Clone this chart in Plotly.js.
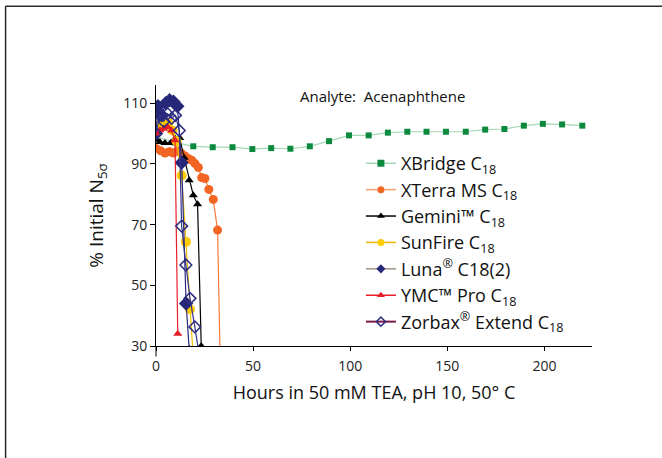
<!DOCTYPE html>
<html>
<head>
<meta charset="utf-8">
<script src="https://cdn.plot.ly/plotly-3.0.1.min.js"></script>
<style>html,body{margin:0;padding:0;background:#fff;}#chart{width:662px;height:458px;}</style>
</head>
<body>
<div id="chart"></div>
<script>
// Data (hours, % initial N)
const xbridgeX = [0,10,19.2,29.2,39.4,49.6,59.3,69.2,79.2,89.1,99.4,109.5,119.4,129.4,139.3,149.3,159.5,169.5,179.4,189.4,199.2,209.1,219.5];
const xbridgeY = [99,97,95.8,95.5,95.5,94.9,95.2,95.0,95.8,97.5,99.4,99.4,100.3,100.6,100.6,100.6,100.6,101.3,101.5,102.6,103.2,103.0,102.6];

const xterraX = [0,2.4,4.6,6.9,8.9,11,13.2,14.9,16.6,18.4,20.1,21.8,23.5,25.2,27.2,29.5,31.7,33.2];
const xterraY = [95.1,94.3,93.6,94,93.6,94.3,93.4,92.6,91.8,91.2,90.1,88.8,85.5,85.2,81.6,78.3,68.2,20];

const geminiX = [0,2,4.6,7.5,9.8,12.2,14.5,17.1,19.2,21.4,23.3];
const geminiY = [98,97.2,96.9,96.9,98.4,98.5,92,84.6,79.7,76.7,30];

const sunfireX = [0,2.9,6.3,8.5,10.6,13.2,15.4,17.5,19.2];
const sunfireY = [100,102.8,103.5,101,97.5,86.2,64.3,42.1,26];

const lunaX = [0,1,3,5,7,9,11,13.2,15.5,17.2];
const lunaY = [100,109,106,110,111,110.5,109,90.4,44,28];

const ymcX = [0,2,4,6,8,9.8,11.2];
const ymcY = [100,101.1,101.6,102.2,101,97.8,34];

const zorbaxX = [0,2,4,6,8,10,12,13.2,15.4,17.5,20,22];
const zorbaxY = [100,106,104,106.5,105,106,101,69.5,56.7,45.7,36.3,28];

const names = ['XBridge C<sub>18</sub>','XTerra MS C<sub>18</sub>','Gemini™ C<sub>18</sub>','SunFire C<sub>18</sub>','Luna<sup>®</sup> C18(2)','YMC™ Pro C<sub>18</sub>','Zorbax<sup>®</sup> Extend C<sub>18</sub>'];
const xTickVals = [0,50,100,150,200];
const yTickVals = [30,50,70,90,110];

const FONT = '"Open Sans", Lato, sans-serif';

const series = [
  {x:xbridgeX,y:xbridgeY,lc:'#a6d8b5',lw:1.5,plotlc:'#a6d8b5',m:{symbol:'square',size:6,color:'#0b8a3e'}},
  {x:xterraX,y:xterraY,lc:'#f7a074',lw:1.5,plotlc:'#f47a3a',m:{symbol:'circle',size:9,color:'#f26522'}},
  {x:geminiX,y:geminiY,lc:'#000000',lw:1.5,plotlc:'#000000',m:{symbol:'triangle-up',size:8,color:'#000000'}},
  {x:sunfireX,y:sunfireY,lc:'#e8b800',lw:1.5,plotlc:'#f0c000',m:{symbol:'circle',size:10,color:'#ffcc00'}},
  {x:lunaX,y:lunaY,lc:'#a39282',lw:1.5,plotlc:'#2b2b80',m:{symbol:'diamond',size:11,color:'#27277a'}},
  {x:ymcX,y:ymcY,lc:'#e8202a',lw:1.5,plotlc:'#e8202a',m:{symbol:'triangle-up',size:8,color:'#e31e26'}},
  {x:zorbaxX,y:zorbaxY,lc:'#7a1848',lw:2,plotlc:'#33338a',m:{symbol:'diamond-open',size:9,color:'#2b2b80',line:{width:1.5}}}
];

const traces = [];
series.forEach((s,i)=>{
  traces.push({x:s.x,y:s.y,type:'scatter',mode:'lines+markers',name:names[i],showlegend:false,
    line:{color:s.plotlc,width:1.2},marker:s.m,cliponaxis:true});
});
series.forEach((s,i)=>{
  traces.push({x:[null],y:[null],type:'scatter',mode:'lines+markers',name:names[i],showlegend:true,
    line:{color:s.lc,width:s.lw},marker:Object.assign({},s.m,{size:7})});
});

const layout = {
  width:662,height:458,
  margin:{l:156,r:70,t:85,b:112},
  paper_bgcolor:'#fff',plot_bgcolor:'#fff',
  font:{family:FONT,color:'#222'},
  showlegend:true,
  legend:{x:0.47,y:0.77,xanchor:'left',yanchor:'top',font:{size:18,color:'#111',family:FONT},bgcolor:'rgba(0,0,0,0)',tracegroupgap:0},
  xaxis:{range:[0,224.5],tickvals:xTickVals,ticks:'outside',ticklen:4,tickcolor:'#000',showline:true,linecolor:'#000',linewidth:1,
    showgrid:false,zeroline:false,tickfont:{size:14,color:'#222'},ticklabelstandoff:3,
    title:{text:'Hours in 50 mM TEA, pH 10, 50° C',font:{size:18,color:'#111'},standoff:12}},
  yaxis:{range:[30,116],tickvals:yTickVals,ticks:'outside',ticklen:5,tickcolor:'#000',showline:true,linecolor:'#000',linewidth:1,
    showgrid:false,zeroline:false,tickfont:{size:14,color:'#222'},
    title:{text:'% Initial N<sub>5σ</sub>',font:{size:19,color:'#111'},standoff:14}},
  annotations:[{text:'Analyte:  Acenaphthene',xref:'paper',yref:'paper',x:0.519,y:0.958,xanchor:'center',yanchor:'middle',showarrow:false,font:{size:15,color:'#111'}}],
  shapes:[
    {type:'line',xref:'paper',yref:'paper',x0:-0.345,x1:1.2,y0:1.302,y1:1.302,line:{color:'#2a2a2a',width:1.5}},
    {type:'line',xref:'paper',yref:'paper',x0:-0.345,x1:-0.345,y0:1.302,y1:-0.5,line:{color:'#2a2a2a',width:1.5}},
    {type:'line',xref:'paper',yref:'paper',x0:0,x1:0,y0:0,y1:-0.04,line:{color:'#000',width:1}}
  ]
};

Plotly.newPlot('chart',traces,layout,{displayModeBar:false,staticPlot:true});
</script>
</body>
</html>
